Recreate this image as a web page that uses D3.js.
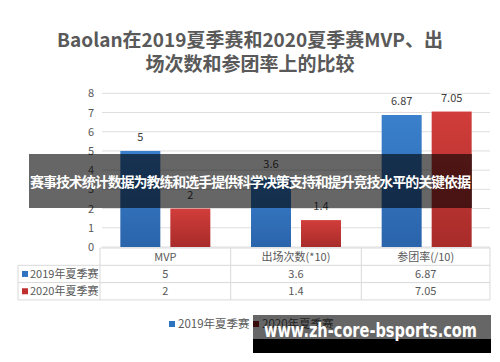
<!DOCTYPE html>
<html>
<head>
<meta charset="utf-8">
<script src="https://cdn.jsdelivr.net/npm/d3@7"></script>
<style>
  body { margin: 0; background: #fff; }
  svg { display: block; font-family: "Noto Sans CJK SC", "Noto Sans", sans-serif; }
</style>
</head>
<body>
<div id="chart"></div>
<script>
// data
const categories = ["MVP", "出场次数(*10)", "参团率(/10)"];
const seriesNames = ["2019年夏季赛", "2020年夏季赛"];
const values2019 = [5, 3.6, 6.87];
const values2020 = [2, 1.4, 7.05];
const yTicks = [0, 1, 2, 3, 4, 5, 6, 7, 8];
const titleLines = ["Baolan在2019夏季赛和2020夏季赛MVP、出", "场次数和参团率上的比较"];
const bannerText = "赛事技术统计数据为教练和选手提供科学决策支持和提升竞技水平的关键依据";
const siteText = "www.zh-core-bsports.com";

const width = 500;
const height = 362;
const svg = d3.select('#chart').append('svg')
    .attr('width', width)
    .attr('height', height);

const colors = ['#2f74c0', '#c0302e'];

// gradients for the bars
const defs = svg.append('defs');
const gBlue = defs.append('linearGradient').attr('id', 'gBlue').attr('x1', 0).attr('y1', 0).attr('x2', 0).attr('y2', 1);
gBlue.append('stop').attr('offset', '0%').attr('stop-color', '#3a80cc');
gBlue.append('stop').attr('offset', '100%').attr('stop-color', '#2a64ab');
const gRed = defs.append('linearGradient').attr('id', 'gRed').attr('x1', 0).attr('y1', 0).attr('x2', 0).attr('y2', 1);
gRed.append('stop').attr('offset', '0%').attr('stop-color', '#d13d3a');
gRed.append('stop').attr('offset', '100%').attr('stop-color', '#a82c2a');

// title
svg.append('g').selectAll('text')
    .data(titleLines)
    .enter()
    .append('text')
    .attr('x', 250)
    .attr('y', (d, i) => 47 + i * 24)
    .attr('text-anchor', 'middle')
    .attr('font-size', 19)
    .attr('font-weight', 'bold')
    .attr('fill', '#595959')
    .text(d => d);

// scales
const y = d3.scaleLinear().domain([0, 8]).range([247, 93.3]);
const x0 = d3.scaleBand().domain(categories).range([100, 492]);

// gridlines and tick labels
const axis = svg.append('g');
axis.selectAll('line')
    .data(yTicks)
    .enter()
    .append('line')
    .attr('x1', 102)
    .attr('x2', 490)
    .attr('y1', d => y(d))
    .attr('y2', d => y(d))
    .attr('stroke', '#dedede')
    .attr('stroke-width', 1);
axis.selectAll('text')
    .data(yTicks)
    .enter()
    .append('text')
    .attr('x', 94)
    .attr('y', d => y(d) + 4)
    .attr('text-anchor', 'end')
    .attr('font-size', 11)
    .attr('fill', '#595959')
    .text(d => d);

// bars
const rows = [values2019, values2020];
const fills = ['url(#gBlue)', 'url(#gRed)'];
const bars = svg.append('g');
categories.forEach((cat, ci) => {
    const c = x0(cat) + x0.bandwidth() / 2;
    const x1 = d3.scaleBand().domain(seriesNames).range([c - 45, c + 45]).paddingInner(0.2);
    seriesNames.forEach((s, si) => {
        const v = rows[si][ci];
        bars.append('rect')
            .attr('x', x1(s))
            .attr('y', y(v))
            .attr('width', x1.bandwidth())
            .attr('height', y(0) - y(v))
            .attr('fill', fills[si]);
        bars.append('text')
            .attr('x', x1(s) + x1.bandwidth() / 2)
            .attr('y', y(v) - 10)
            .attr('text-anchor', 'middle')
            .attr('font-size', 11)
            .attr('fill', '#404040')
            .text(v);
    });
});

// data table under the chart
const table = svg.append('g');
const tLeft = 18, tRight = 490, tTop = 248, rowH = 17.3;
const lineColor = '#d9d9d9';
// horizontal lines
table.append('line').attr('x1', 100).attr('x2', tRight).attr('y1', tTop).attr('y2', tTop).attr('stroke', lineColor);
[1, 2, 3].forEach(r => {
    table.append('line')
        .attr('x1', tLeft).attr('x2', tRight)
        .attr('y1', tTop + r * rowH).attr('y2', tTop + r * rowH)
        .attr('stroke', lineColor);
});
// vertical lines
table.append('line').attr('x1', tLeft).attr('x2', tLeft).attr('y1', tTop + rowH).attr('y2', tTop + 3 * rowH).attr('stroke', lineColor);
categories.forEach(cat => {
    table.append('line')
        .attr('x1', x0(cat)).attr('x2', x0(cat))
        .attr('y1', tTop).attr('y2', tTop + 3 * rowH)
        .attr('stroke', lineColor);
});
table.append('line').attr('x1', tRight).attr('x2', tRight).attr('y1', tTop).attr('y2', tTop + 3 * rowH).attr('stroke', lineColor);
// header text
categories.forEach(cat => {
    table.append('text')
        .attr('x', x0(cat) + (Math.min(x0(cat) + x0.bandwidth(), tRight) - x0(cat)) / 2)
        .attr('y', tTop + rowH / 2 + 4)
        .attr('text-anchor', 'middle')
        .attr('font-size', 11)
        .attr('fill', '#595959')
        .text(cat);
});
// series rows
seriesNames.forEach((s, si) => {
    const ry = tTop + (si + 1) * rowH;
    table.append('rect')
        .attr('x', 22).attr('y', ry + rowH / 2 - 3)
        .attr('width', 6).attr('height', 6)
        .attr('fill', colors[si]);
    table.append('text')
        .attr('x', 30).attr('y', ry + rowH / 2 + 4)
        .attr('font-size', 11)
        .attr('fill', '#595959')
        .text(s);
    categories.forEach((cat, ci) => {
        table.append('text')
            .attr('x', x0(cat) + (Math.min(x0(cat) + x0.bandwidth(), tRight) - x0(cat)) / 2)
            .attr('y', ry + rowH / 2 + 4)
            .attr('text-anchor', 'middle')
            .attr('font-size', 11)
            .attr('fill', '#595959')
            .text(rows[si][ci]);
    });
});

// legend
const legend = svg.append('g');
const legendX = [169, 253];
seriesNames.forEach((s, si) => {
    legend.append('rect')
        .attr('x', legendX[si]).attr('y', 321)
        .attr('width', 6).attr('height', 6)
        .attr('fill', si === 0 ? colors[0] : '#8e2020');
    legend.append('text')
        .attr('x', legendX[si] + 9).attr('y', 328)
        .attr('font-size', 11.5)
        .attr('fill', '#595959')
        .text(s);
});

// overlay banner
svg.append('rect')
    .attr('x', 29).attr('y', 154)
    .attr('width', 443).attr('height', 54)
    .attr('fill', 'rgba(0,0,0,0.6)');
svg.append('text')
    .attr('x', 30).attr('y', 187)
    .attr('font-size', 14)
    .attr('font-weight', 'bold')
    .attr('fill', '#fff')
    .attr('textLength', 441)
    .text(bannerText);

// site watermark
svg.append('rect')
    .attr('x', 253).attr('y', 315)
    .attr('width', 238).attr('height', 24)
    .attr('fill', 'rgba(0,0,0,0.6)');
svg.append('rect')
    .attr('x', 253).attr('y', 339)
    .attr('width', 238).attr('height', 14)
    .attr('fill', '#000');
svg.append('text')
    .attr('x', 264).attr('y', 337)
    .attr('font-family', '"DejaVu Sans", sans-serif')
    .attr('font-size', 19)
    .attr('font-weight', 'bold')
    .attr('fill', '#fff')
    .attr('textLength', 213)
    .attr('lengthAdjust', 'spacingAndGlyphs')
    .text(siteText);
</script>
</body>
</html>
